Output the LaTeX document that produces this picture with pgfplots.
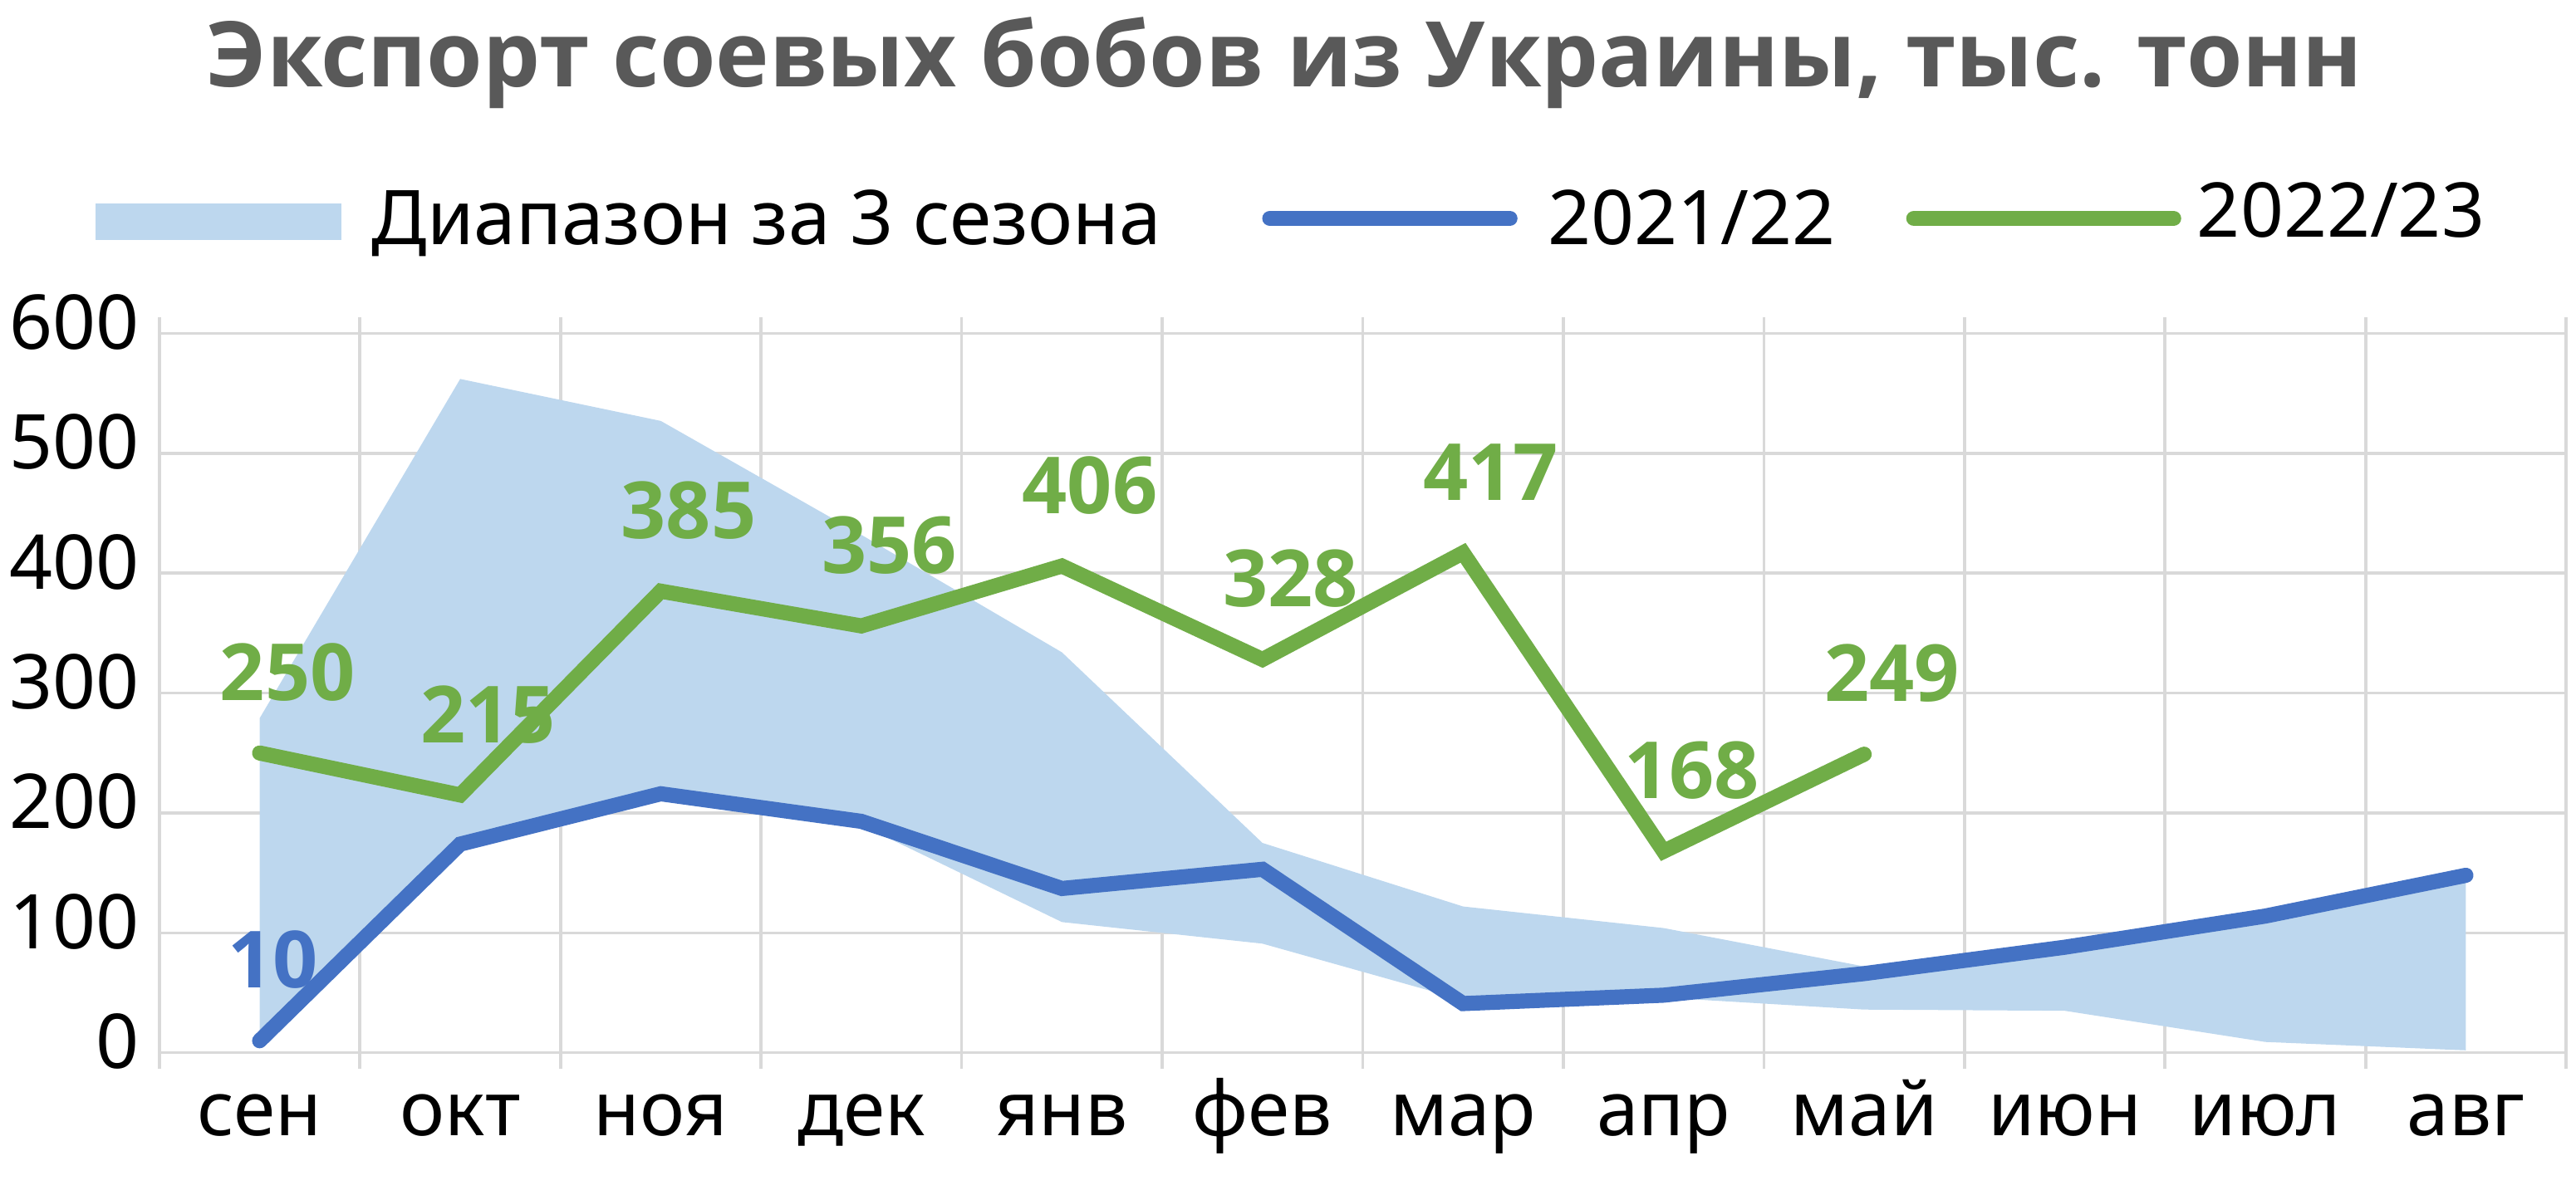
\documentclass[border=0pt]{standalone}
\usepackage{pgfplots}
\pgfplotsset{compat=1.18}
\usepackage{fontspec}
\setmainfont{Noto Sans}
\newfontfamily\boldsans{Open Sans}

\definecolor{band}{HTML}{BDD7EE}
\definecolor{blueline}{HTML}{4472C4}
\definecolor{greenline}{HTML}{70AD47}
\definecolor{gridgray}{HTML}{D9D9D9}
\definecolor{titlegray}{HTML}{595959}

\newcommand{\lblfont}{\fontsize{23}{23}\selectfont}
\newcommand{\numfont}{\boldsans\bfseries\fontsize{24}{24}\selectfont}

\begin{document}
\begin{tikzpicture}
  \begin{axis}[
    at={(0,0)}, anchor=south west,
    scale only axis,
    width=732.5pt, height=219pt,
    xmin=-0.5, xmax=11.5,
    ymin=0, ymax=600,
    axis line style={draw=none},
    xtick={0,...,11},
    xticklabels={сен,окт,ноя,дек,янв,фев,мар,апр,май,июн,июл,авг},
    minor xtick={-0.5,0.5,...,11.5},
    xminorgrids,
    ytick={0,100,...,600},
    ymajorgrids,
    grid style={gridgray, line width=0.9pt},
    minor grid style={gridgray, line width=0.9pt},
    major tick length=0pt,
    minor tick length=5pt,
    tick align=outside,
    minor tick style={gridgray, line width=0.9pt},
    tick label style={font=\lblfont, black},
    xticklabel style={anchor=base, inner sep=0pt, yshift=-25.3pt},
    yticklabel style={anchor=base east, inner sep=0pt, xshift=-6pt, yshift=-4.75pt},
    /pgf/number format/assume math mode=true,
    clip=false,
  ]
    % диапазон: верхняя граница, затем нижняя в обратном порядке
    \addplot[fill=band, draw=none] coordinates {
      (0,279) (1,562) (2,527) (3,432) (4,334) (5,175) (6,122)
      (7,104) (8,72) (9,86) (10,111) (11,143)
      (11,2) (10,9) (9,35) (8,36) (7,46) (6,44) (5,91)
      (4,109) (3,190) (2,217) (1,172) (0,10)
    } -- cycle;

    % 2021/22
    \addplot[blueline, line width=4.6pt, line cap=round] coordinates {
      (0,10) (1,174) (2,216) (3,193) (4,137) (5,153)
      (6,41) (7,48) (8,66) (9,88) (10,114) (11,148)
    };
    \addplot[draw=none, nodes near coords,
      every node near coord/.append style={font=\numfont, text=blueline,
        anchor=base, inner sep=0pt, xshift=4pt, yshift=16pt}]
      coordinates {(0,10)};

    % 2022/23
    \addplot[greenline, line width=4.6pt, line cap=round,
      nodes near coords,
      every node near coord/.append style={font=\numfont, text=greenline,
        anchor=base, inner sep=0pt, xshift=8.5pt, yshift=16pt}]
      coordinates {
      (0,250) (1,215) (2,385) (3,356) (4,406) (5,328)
      (6,417) (7,168) (8,249)
    };
  \end{axis}

  % заголовок
  \node[anchor=base, text=titlegray, font=\boldsans\bfseries\fontsize{27.6}{27.6}\selectfont]
    at (342.5pt,294pt) {Экспорт соевых бобов из Украины, тыс. тонн};

  % легенда
  \fill[band] (-19.5pt,247.35pt) rectangle (55.5pt,258.65pt);
  \node[anchor=base west, inner sep=0pt, font=\lblfont] at (64.5pt,246.1pt) {Диапазон за 3 сезона};
  \draw[blueline, line width=4.7pt, line cap=round] (338pt,254pt) -- (411pt,254pt);
  \node[anchor=base west, inner sep=0pt, font=\lblfont] at (422.5pt,246.1pt) {2021/22};
  \draw[greenline, line width=4.7pt, line cap=round] (534pt,254pt) -- (613pt,254pt);
  \node[anchor=base west, inner sep=0pt, font=\lblfont] at (620pt,248.2pt) {2022/23};

  \pgfresetboundingbox
  \path (-48.5pt,-43.3pt) rectangle (735.5pt,320.5pt);
\end{tikzpicture}
\end{document}
